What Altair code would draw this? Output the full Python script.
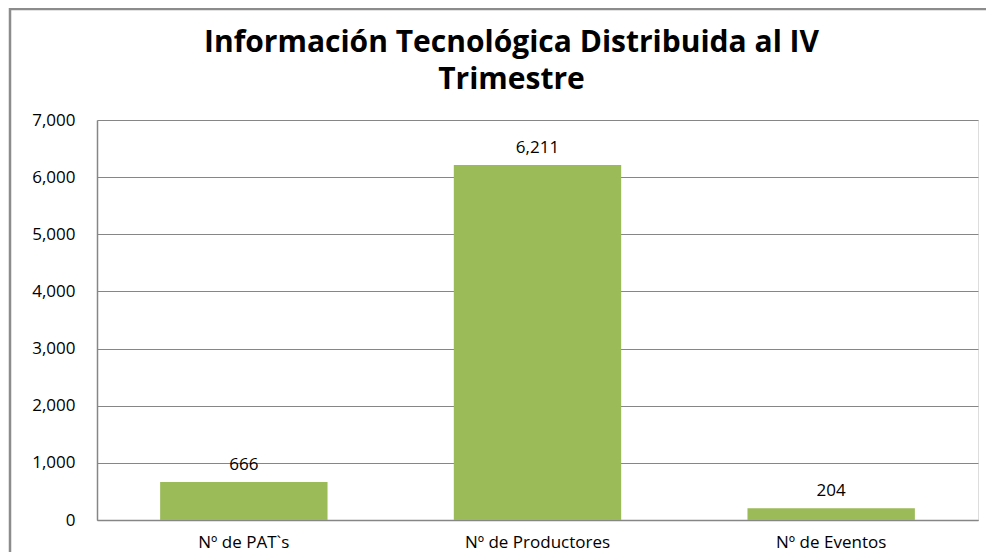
import altair as alt
import pandas as pd

categories = ["Nº de PAT`s", "Nº de Productores", "Nº de Eventos"]
values = [666, 6211, 204]
y_ticks = [0, 1000, 2000, 3000, 4000, 5000, 6000, 7000]

df = pd.DataFrame({"cat": categories, "val": values})

FONT = "Open Sans"
W, H = 881, 400

x_enc = alt.X("cat:N", sort=categories, title=None,
              scale=alt.Scale(paddingInner=0.43, paddingOuter=0.215),
              axis=alt.Axis(labelAngle=0, labelFontSize=17, labelFont=FONT,
                            labelColor="#000000", labelPadding=14, ticks=False,
                            domainColor="#868686", domainWidth=1.5))
y_enc = alt.Y("val:Q", title=None,
              scale=alt.Scale(domain=[0, 7000], nice=False),
              axis=alt.Axis(values=y_ticks, format=",d", labelFontSize=17,
                            labelFont=FONT, labelColor="#000000", labelPadding=22,
                            ticks=False, domainColor="#868686", domainWidth=1.5,
                            grid=True, gridColor="#868686", gridWidth=1.2))

bars = alt.Chart(df).mark_bar(color="#9BBB59").encode(x=x_enc, y=y_enc)

labels = alt.Chart(df).mark_text(dy=-17, fontSize=17, font=FONT, color="#000000").encode(
    x=alt.X("cat:N", sort=categories), y="val:Q", text=alt.Text("val:Q", format=",d"))

border_df = pd.DataFrame({"k": [0]})
left_border = alt.Chart(border_df).mark_rule(color="#8c8c8c", strokeWidth=2.5).encode(
    x=alt.value(-87), y=alt.value(-112), y2=alt.value(H + 40))
top_border = alt.Chart(border_df).mark_rule(color="#8c8c8c", strokeWidth=2.5).encode(
    x=alt.value(-88), x2=alt.value(W + 8), y=alt.value(-111))

chart = alt.layer(bars, labels, left_border, top_border).properties(
    width=W, height=H,
    title=alt.TitleParams(
        text=["Información Tecnológica Distribuida al IV", "Trimestre"],
        font=FONT, fontSize=30, fontWeight="bold", color="#000000",
        anchor="middle", dx=-26, offset=-88, lineHeight=37),
    autosize=alt.AutoSizeParams(type="none"),
    padding={"left": 89, "top": 112, "right": 8, "bottom": 32},
).configure_view(stroke=None).configure(background="white")

chart.save("out.html", embed_options={"renderer": "svg", "actions": False})
